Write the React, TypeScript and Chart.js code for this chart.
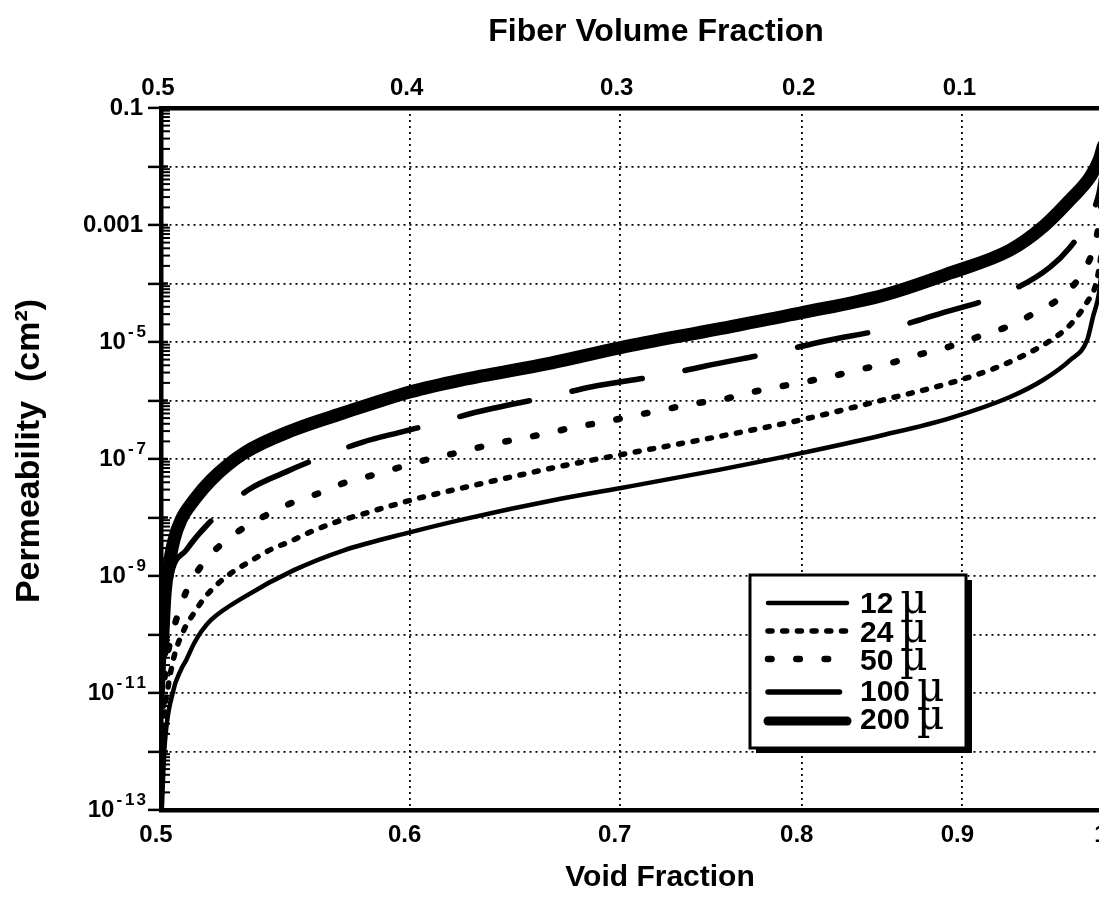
import React, { useEffect, useRef } from 'react';
import { Chart, registerables } from 'chart.js';

Chart.register(...registerables);

const SANS = '"Liberation Sans", Arial, Helvetica, sans-serif';
const SERIF = '"DejaVu Serif", "Liberation Serif", serif';

// ---- axis ticks ----
const voidTickValues = [0.5, 0.6, 0.7, 0.8, 0.9, 1.0];
const voidTickLabels = ['0.5', '0.6', '0.7', '0.8', '0.9', '1'];
const fiberTickValues = [0.5, 0.6, 0.7, 0.8, 0.9]; // positions on the void-fraction scale
const fiberTickLabels = ['0.5', '0.4', '0.3', '0.2', '0.1'];
const gridDecades = [1e-13, 1e-12, 1e-11, 1e-10, 1e-9, 1e-8, 1e-7, 1e-6, 1e-5, 1e-4, 1e-3, 1e-2, 1e-1];
const yLabelValues = [1e-1, 1e-3, 1e-5, 1e-7, 1e-9, 1e-11, 1e-13];
const yLabelTexts = ['0.1', '0.001', '10^-5', '10^-7', '10^-9', '10^-11', '10^-13'];
const minorMultipliers = [2, 3, 4, 5, 6, 7, 8, 9];

// ---- series (void fraction, log10 permeability in cm^2) ----
const seriesLabels = ['12', '24', '50', '100', '200'];

const void12 = [0.5003, 0.5012, 0.5043, 0.5074, 0.5093, 0.5123, 0.515, 0.5187, 0.5314, 0.5512, 0.5718, 0.6005, 0.623, 0.6703, 0.6999, 0.752, 0.7998, 0.8493, 0.892, 0.932, 0.9549, 0.974, 0.9862, 0.9905, 0.9949, 0.998];
const logK12 = [-13.0, -12.0, -11.0, -10.6, -10.44, -10.15, -9.95, -9.75, -9.36, -8.9, -8.56, -8.25, -8.04, -7.68, -7.5, -7.19, -6.9, -6.59, -6.3, -5.94, -5.65, -5.31, -4.97, -4.57, -4.16, -3.5];

const void24 = [0.5004, 0.5012, 0.5026, 0.5048, 0.5085, 0.5123, 0.5161, 0.5199, 0.5264, 0.5314, 0.538, 0.5432, 0.5492, 0.5561, 0.5676, 0.5798, 0.5918, 0.604, 0.623, 0.6424, 0.6682, 0.6999, 0.752, 0.7998, 0.8493, 0.892, 0.9205, 0.9389, 0.9584, 0.9718, 0.979, 0.9862, 0.992, 0.9949, 0.998];
const logK24 = [-12.4, -11.4, -10.9, -10.38, -9.92, -9.63, -9.38, -9.19, -8.95, -8.81, -8.64, -8.52, -8.42, -8.28, -8.09, -7.94, -7.8, -7.67, -7.5, -7.34, -7.14, -6.93, -6.62, -6.33, -5.99, -5.7, -5.46, -5.26, -5.0, -4.76, -4.57, -4.32, -4.06, -3.75, -3.2];

const void50 = [0.5004, 0.5012, 0.503, 0.5056, 0.5093, 0.5161, 0.5272, 0.538, 0.5492, 0.5617, 0.5732, 0.5856, 0.5992, 0.6108, 0.623, 0.6359, 0.6495, 0.664, 0.6778, 0.6918, 0.7071, 0.7229, 0.7373, 0.7537, 0.7693, 0.7858, 0.8021, 0.8187, 0.8363, 0.8537, 0.8726, 0.89, 0.9105, 0.93, 0.9493, 0.969, 0.9869, 0.9934, 0.997];
const logK50 = [-11.7, -10.8, -10.2, -9.75, -9.27, -8.76, -8.3, -8.01, -7.77, -7.58, -7.39, -7.26, -7.1, -6.98, -6.88, -6.76, -6.66, -6.56, -6.45, -6.37, -6.26, -6.16, -6.06, -5.99, -5.87, -5.77, -5.68, -5.58, -5.46, -5.36, -5.21, -5.09, -4.91, -4.74, -4.5, -4.2, -3.65, -3.18, -2.6];

const void100 = [0.5004, 0.5012, 0.503, 0.5093, 0.518, 0.533, 0.548, 0.5635, 0.5798, 0.5962, 0.6126, 0.6289, 0.6664, 0.6852, 0.725, 0.7454, 0.7887, 0.811, 0.8587, 0.8822, 0.9335, 0.9598, 0.974, 0.9862, 0.9949, 0.998];
const logK100 = [-11.0, -10.1, -9.15, -8.56, -8.09, -7.53, -7.22, -6.95, -6.71, -6.54, -6.38, -6.21, -5.92, -5.77, -5.55, -5.41, -5.15, -5.0, -4.73, -4.54, -4.11, -3.72, -3.38, -2.95, -2.45, -2.0];

const void200 = [0.5004, 0.5015, 0.503, 0.5048, 0.5074, 0.5123, 0.5187, 0.5314, 0.5512, 0.5718, 0.6005, 0.623, 0.6654, 0.6999, 0.752, 0.7998, 0.8493, 0.892, 0.932, 0.9549, 0.974, 0.9884, 0.9949, 0.998];
const logK200 = [-10.3, -9.3, -8.8, -8.38, -8.04, -7.7, -7.36, -6.9, -6.5, -6.21, -5.85, -5.65, -5.36, -5.1, -4.78, -4.5, -4.2, -3.82, -3.43, -3.03, -2.57, -2.18, -1.89, -1.65];

const seriesVoid = [void12, void24, void50, void100, void200];
const seriesLogK = [logK12, logK24, logK50, logK100, logK200];

// ---- styles ----
const seriesWidth = [4.5, 5.5, 6.5, 5.5, 13];
const seriesDash = [[], [4, 10.7], [3.5, 24.8], [71.5, 43.5], []];
const legendWidth = [4.5, 5.5, 6.5, 5.5, 9];

const titlesPlugin = {
  id: 'titles',
  afterDraw(chart: any) {
    const ctx = chart.ctx;
    ctx.save();
    ctx.fillStyle = '#000';
    ctx.textAlign = 'center';
    ctx.textBaseline = 'middle';
    ctx.font = `bold 32px ${SANS}`;
    ctx.fillText('Fiber Volume Fraction', 656, 32);
    ctx.font = `bold 30px ${SANS}`;
    ctx.fillText('Void Fraction', 660, 878);
    ctx.translate(30, 451);
    ctx.rotate(-Math.PI / 2);
    ctx.font = `bold 34px ${SANS}`;
    ctx.fillText('Permeability  (cm²)', 0, 0);
    ctx.restore();
  },
};

const yAxisPlugin = {
  id: 'yAxisExtras',
  afterDraw(chart: any) {
    const ctx = chart.ctx;
    const ys = chart.scales.y;
    const left = chart.chartArea.left;
    ctx.save();
    ctx.strokeStyle = '#000';
    // minor ticks inside
    ctx.lineWidth = 2;
    for (const d of gridDecades) {
      if (d >= 0.1) continue;
      for (const m of minorMultipliers) {
        const py = ys.getPixelForValue(d * m);
        ctx.beginPath();
        ctx.moveTo(left, py);
        ctx.lineTo(left + 9, py);
        ctx.stroke();
      }
    }
    // inner part of major ticks
    ctx.lineWidth = 2.5;
    for (const d of gridDecades) {
      const py = ys.getPixelForValue(d);
      ctx.beginPath();
      ctx.moveTo(left, py);
      ctx.lineTo(left + 7, py);
      ctx.stroke();
    }
    // labels
    ctx.fillStyle = '#000';
    ctx.textBaseline = 'middle';
    yLabelValues.forEach((v, i) => {
      const py = ys.getPixelForValue(v);
      const t = yLabelTexts[i];
      if (t.indexOf('^') < 0) {
        ctx.font = `bold 24px ${SANS}`;
        ctx.textAlign = 'right';
        ctx.fillText(t, 143, py);
      } else {
        const [base, exp] = t.split('^');
        const digits = exp.slice(1).split('');
        ctx.font = `bold 17px ${SANS}`;
        const minusW = ctx.measureText('-').width;
        const dW = digits.map((c) => ctx.measureText(c).width);
        const gap = 3, ls = 2;
        const expW = minusW + gap + dW.reduce((a, b) => a + b, 0) + ls * (digits.length - 1);
        ctx.font = `bold 24px ${SANS}`;
        const baseW = ctx.measureText(base).width;
        let x = 146 - expW - 2 - baseW;
        ctx.textAlign = 'left';
        ctx.fillText(base, x, py);
        x += baseW + 2;
        ctx.font = `bold 17px ${SANS}`;
        const ey = py - 10;
        ctx.fillText('-', x, ey);
        x += minusW + gap;
        digits.forEach((c, k) => {
          ctx.fillText(c, x, ey);
          x += dW[k] + ls;
        });
      }
    });
    ctx.restore();
  },
};

const legendPlugin = {
  id: 'boxLegend',
  afterDraw(chart: any) {
    const ctx = chart.ctx;
    const bx = 750, by = 575, bw = 216, bh = 173;
    ctx.save();
    ctx.fillStyle = '#000';
    ctx.fillRect(bx + 6, by + 5, bw, bh);
    ctx.fillStyle = '#fff';
    ctx.fillRect(bx, by, bw, bh);
    ctx.lineWidth = 3;
    ctx.strokeStyle = '#000';
    ctx.strokeRect(bx, by, bw, bh);
    const lineY = [603, 631, 659, 692, 721];
    const textY = [613, 642, 670, 701, 729];
    chart.data.datasets.forEach((ds: any, i: number) => {
      ctx.save();
      ctx.strokeStyle = '#000';
      ctx.lineWidth = legendWidth[i];
      ctx.lineCap = 'round';
      ctx.setLineDash(ds.borderDash || []);
      ctx.beginPath();
      ctx.moveTo(768, lineY[i]);
      ctx.lineTo(847, lineY[i]);
      ctx.stroke();
      ctx.restore();
      ctx.fillStyle = '#000';
      ctx.textAlign = 'left';
      ctx.textBaseline = 'alphabetic';
      ctx.font = `bold 30px ${SANS}`;
      const num = seriesLabels[i];
      ctx.fillText(num, 860, textY[i]);
      const w = ctx.measureText(num).width;
      ctx.font = `normal 42px ${SERIF}`;
      ctx.fillText('µ', 860 + w + 7, textY[i]);
    });
    ctx.restore();
  },
};

export default function App() {
  const ref = useRef<HTMLCanvasElement | null>(null);

  useEffect(() => {
    if (!ref.current) return;
    const datasets = seriesLabels.map((lab, i) => ({
      label: `${lab} µ`,
      data: seriesVoid[i].map((v, k) => ({ x: v, y: Math.pow(10, seriesLogK[i][k]) })),
      borderColor: '#000',
      backgroundColor: '#000',
      borderWidth: seriesWidth[i],
      borderDash: seriesDash[i],
      borderCapStyle: 'round',
      borderJoinStyle: 'round',
      pointRadius: 0,
      pointHoverRadius: 0,
      fill: false,
      cubicInterpolationMode: 'monotone',
    }));
    const tickFont = { family: SANS, size: 24, weight: 'bold' as const };
    const chart = new Chart(ref.current, {
      type: 'line',
      data: { datasets } as any,
      options: {
        animation: false,
        responsive: false,
        maintainAspectRatio: false,
        parsing: false as any,
        layout: { padding: { left: 0, right: 24, top: 0, bottom: 0 } },
        plugins: {
          legend: { display: false },
          tooltip: { enabled: false },
          title: { display: false },
        },
        scales: {
          x: {
            type: 'logarithmic',
            position: 'bottom',
            min: 0.5,
            max: 1,
            afterBuildTicks: (s: any) => {
              s.ticks = voidTickValues.map((v) => ({ value: v }));
            },
            afterFit: (s: any) => {
              s.height = 98;
            },
            ticks: {
              color: '#000',
              font: tickFont,
              padding: 11,
              labelOffset: -5,
              maxRotation: 0,
              autoSkip: false,
              callback: (_v: any, i: number) => voidTickLabels[i],
            },
            grid: { color: '#000', lineWidth: 1.8, drawTicks: false },
            border: { display: true, color: '#000', width: 4.5, dash: [2, 4] },
          },
          x2: {
            type: 'logarithmic',
            position: 'top',
            min: 0.5,
            max: 1,
            afterBuildTicks: (s: any) => {
              s.ticks = fiberTickValues.map((v) => ({ value: v }));
            },
            afterFit: (s: any) => {
              s.height = 108;
            },
            ticks: {
              color: '#000',
              font: tickFont,
              padding: 5,
              labelOffset: -3,
              maxRotation: 0,
              autoSkip: false,
              callback: (_v: any, i: number) => fiberTickLabels[i],
            },
            grid: { display: true, drawOnChartArea: false, drawTicks: false, color: '#000' },
            border: { display: true, color: '#000', width: 4.5 },
          },
          y: {
            type: 'logarithmic',
            position: 'left',
            min: 1e-13,
            max: 0.1,
            afterBuildTicks: (s: any) => {
              s.ticks = gridDecades.map((v) => ({ value: v }));
            },
            afterFit: (s: any) => {
              s.width = 161;
            },
            ticks: { display: false },
            grid: {
              color: '#000',
              lineWidth: 1.8,
              drawTicks: true,
              tickLength: 13,
              tickWidth: 2.5,
              tickColor: '#000',
              tickBorderDash: [],
            },
            border: { display: true, color: '#000', width: 4.5, dash: [2, 4] },
          },
        },
      } as any,
      plugins: [titlesPlugin, yAxisPlugin, legendPlugin],
    });
    return () => chart.destroy();
  }, []);

  return (
    <div
      style={{
        position: 'fixed',
        left: 0,
        top: 0,
        width: 1099,
        height: 908,
        overflow: 'hidden',
        background: '#fff',
      }}
    >
      <canvas ref={ref} width={1130} height={908} style={{ display: 'block', width: 1130, height: 908 }} />
    </div>
  );
}
